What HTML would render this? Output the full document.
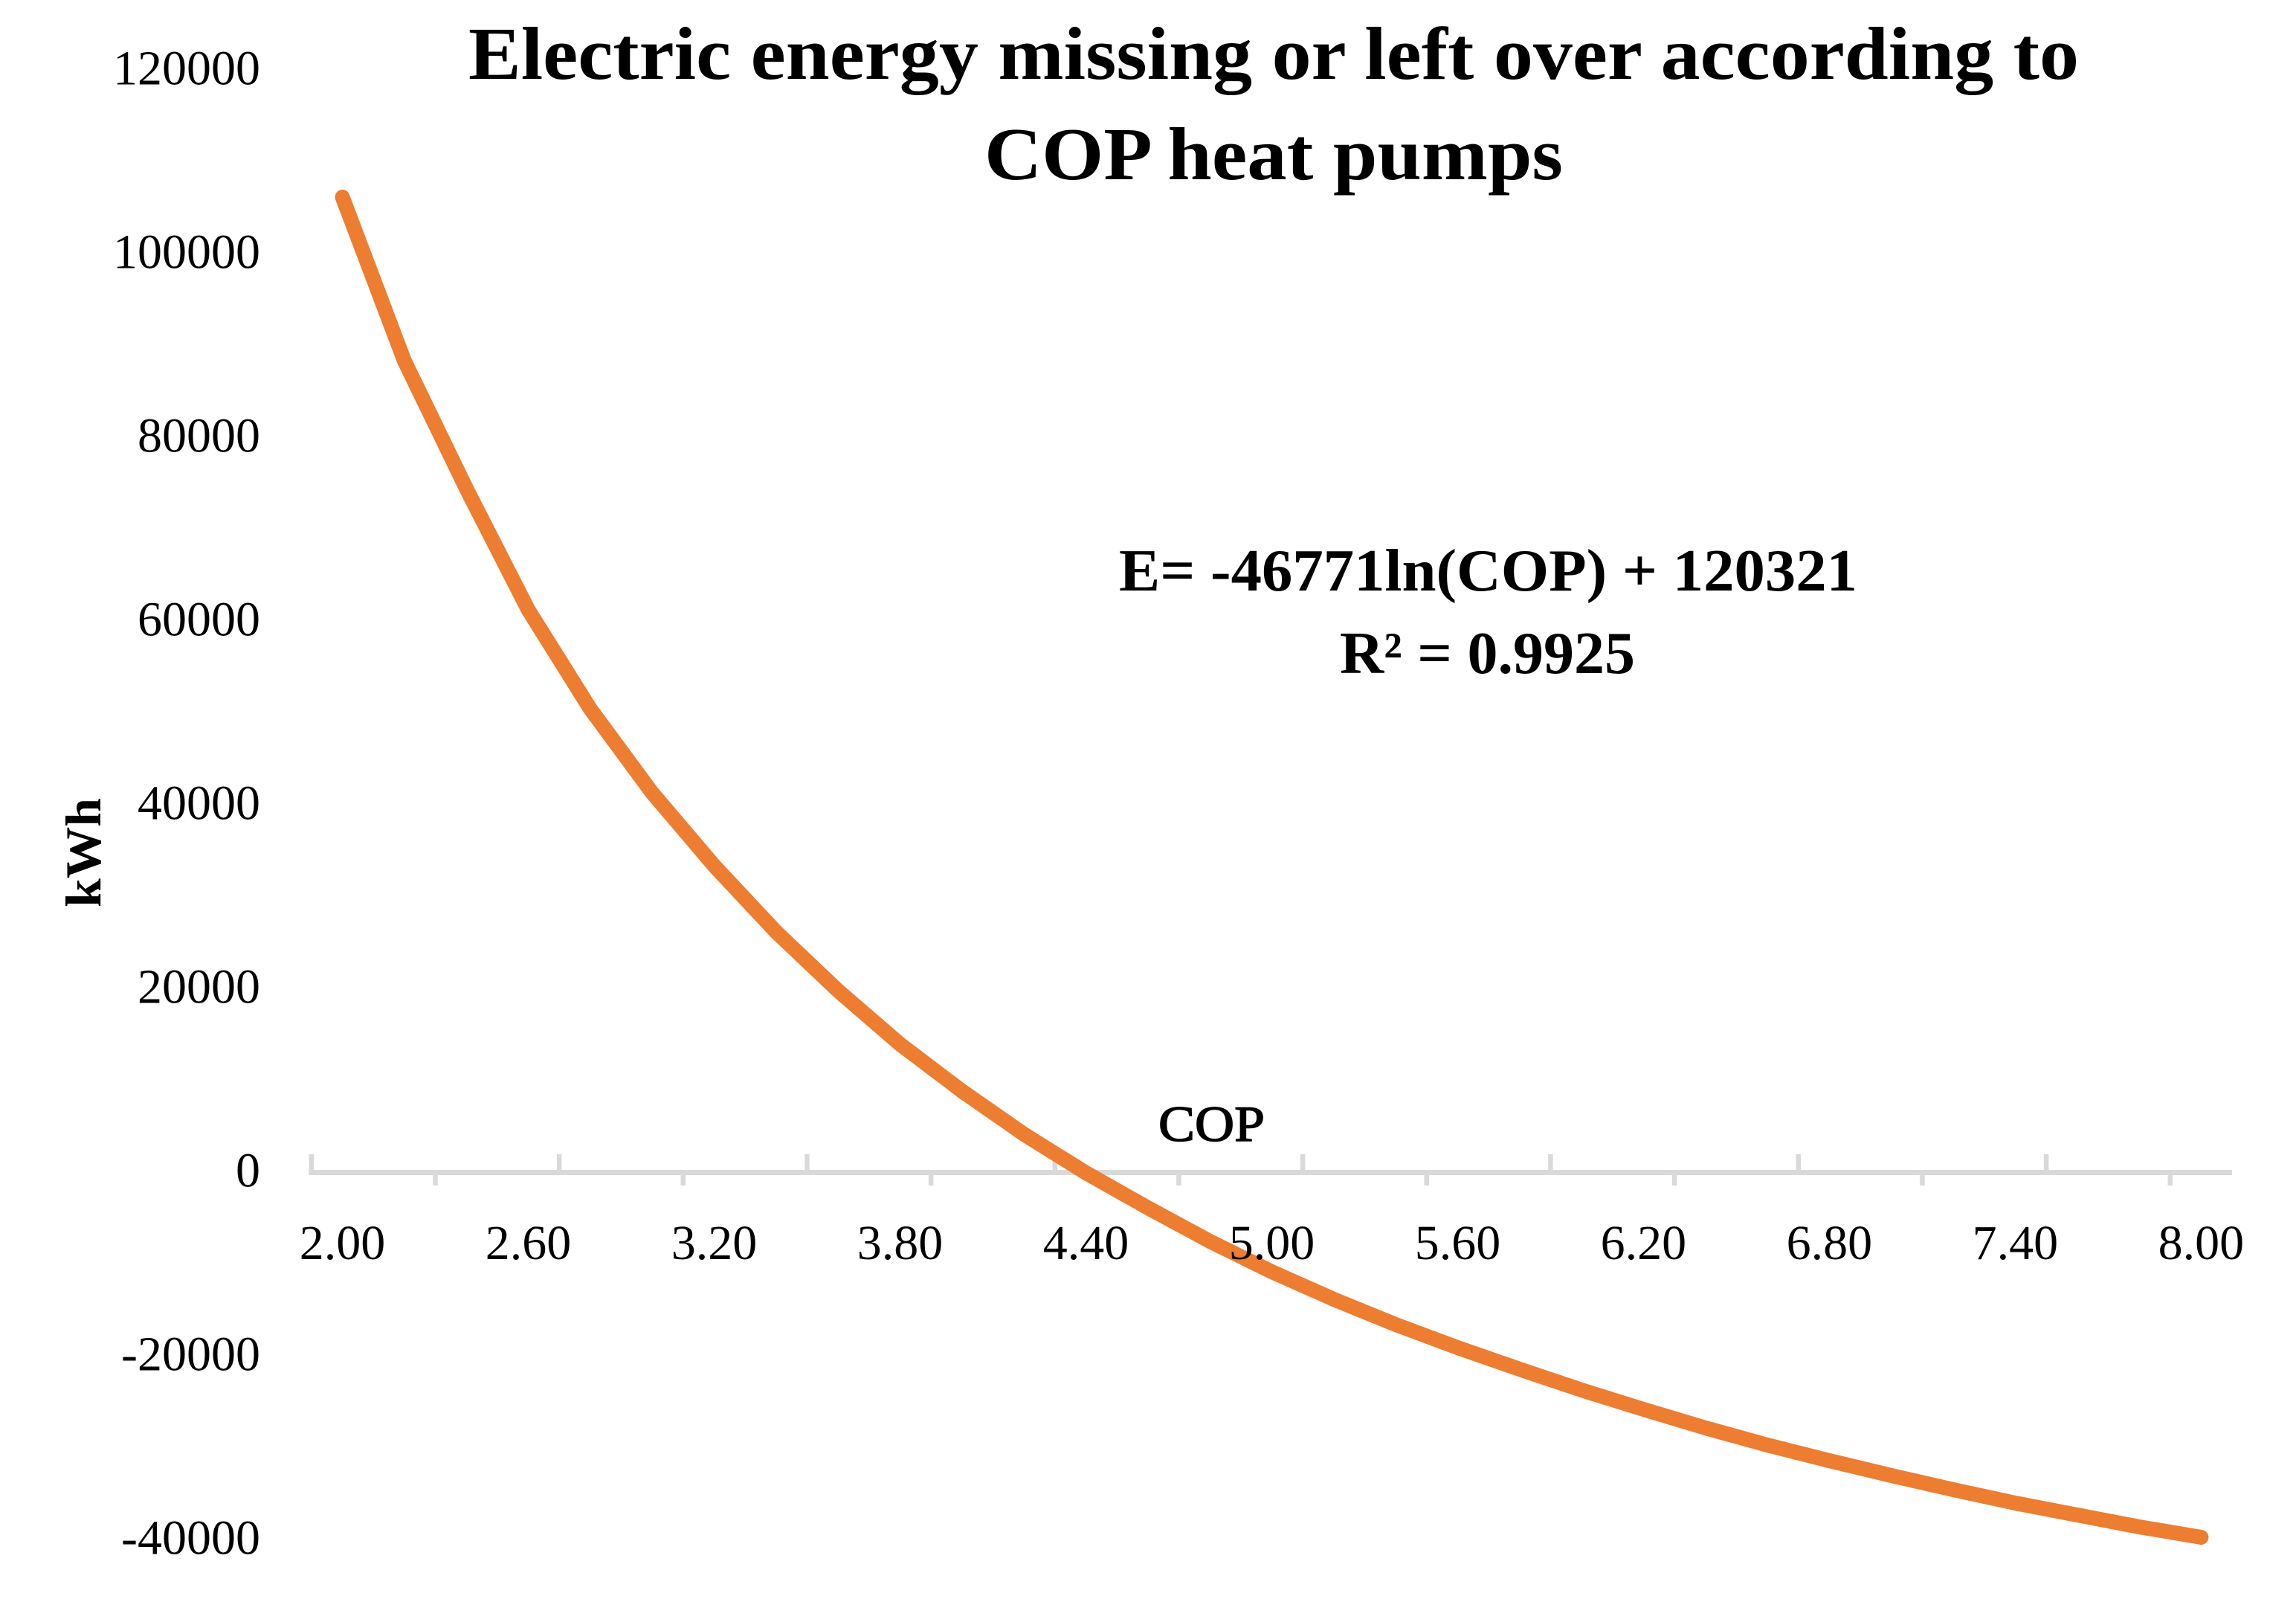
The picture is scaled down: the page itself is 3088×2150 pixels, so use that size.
<!DOCTYPE html>
<html lang="en">
<head>
<meta charset="utf-8">
<title>Electric energy missing or left over according to COP heat pumps</title>
<style>
  html, body { margin: 0; padding: 0; background: #fff; width: 3088px; height: 2150px; overflow: hidden; }
  svg { display: block; }
  text { font-family: "Liberation Serif", serif; fill: #000; }
  .tick-label { font-size: 66px; }
  .title { font-size: 101px; font-weight: bold; }
  .equation { font-size: 81px; font-weight: bold; }
</style>
</head>
<body>
<svg id="chart" xmlns="http://www.w3.org/2000/svg" width="3088" height="2150" viewBox="0 0 3088 2150">
  <rect x="0" y="0" width="3088" height="2150" fill="#ffffff"/>
  <g id="axis-layer"></g>
  <polyline id="curve" fill="none" stroke="#ED7D31" stroke-width="20" stroke-linecap="round" stroke-linejoin="round"></polyline>
  <g id="label-layer"></g>
  <text class="title" x="630" y="106" textLength="2166" lengthAdjust="spacingAndGlyphs">Electric energy missing or left over according to</text>
  <text class="title" x="1324" y="241" textLength="778" lengthAdjust="spacingAndGlyphs">COP heat pumps</text>
  <text class="equation" x="1505" y="794" textLength="993" lengthAdjust="spacingAndGlyphs">E= -46771ln(COP) + 120321</text>
  <text class="equation" x="1802" y="905" textLength="397" lengthAdjust="spacingAndGlyphs">R² = 0.9925</text>
  <text x="1558" y="1534" font-size="68" stroke="#000" stroke-width="1.5" textLength="143" lengthAdjust="spacingAndGlyphs">COP</text>
  <text transform="translate(135 1220) rotate(-90)" x="0" y="0" font-size="68" font-weight="bold" textLength="147" lengthAdjust="spacingAndGlyphs">kWh</text>
</svg>
<script>
const copCategories = [2.0, 2.2, 2.4, 2.6, 2.8, 3.0, 3.2, 3.4, 3.6, 3.8, 4.0, 4.2, 4.4, 4.6, 4.8, 5.0, 5.2, 5.4, 5.6, 5.8, 6.0, 6.2, 6.4, 6.6, 6.8, 7.0, 7.2, 7.4, 7.6, 7.8, 8.0];
const energyValues = [106194, 88381, 74452, 61254, 50485, 41335, 33400, 26194, 19797, 13967, 8866, 4170, -40, -3846, -7490, -10809, -13805, -16558, -19068, -21417, -23684, -25789, -27813, -29676, -31376, -32995, -34534, -35991, -37287, -38582, -39716];
const yTickValues = [120000, 100000, 80000, 60000, 40000, 20000, 0, -20000, -40000];

const SVG_NS = 'http://www.w3.org/2000/svg';
const categoryBand = 83.33;
const firstCategoryX = 460.5;
const zeroY = 1576.5;
const pxPerUnit = 247 / 20000;

function xScale(index) { return firstCategoryX + index * categoryBand; }
function yScale(value) { return zeroY - value * pxPerUnit; }

const axisLayer = document.getElementById('axis-layer');
const labelLayer = document.getElementById('label-layer');
const axisStart = xScale(0) - categoryBand / 2;
const axisEnd = xScale(copCategories.length - 1) + categoryBand / 2;

const axisLine = document.createElementNS(SVG_NS, 'line');


axisLine.setAttribute('x1', axisStart - 3.5);
axisLine.setAttribute('x2', axisEnd);
axisLine.setAttribute('y1', yScale(0));
axisLine.setAttribute('y2', yScale(0));
axisLine.setAttribute('stroke', '#D9D9D9');
axisLine.setAttribute('stroke-width', '7');
axisLayer.appendChild(axisLine);

for (let k = 0; k * 2 < copCategories.length; k++) {
  const tickX = axisStart + k * 2 * categoryBand;
  const tick = document.createElementNS(SVG_NS, 'line');
  
  
  tick.setAttribute('x1', tickX);
  tick.setAttribute('x2', tickX);
  tick.setAttribute('y1', yScale(0));
  tick.setAttribute('y2', k % 2 === 0 ? yScale(0) - 24.5 : yScale(0) + 17.5);
  tick.setAttribute('stroke', '#D9D9D9');
  tick.setAttribute('stroke-width', '6.5');
  axisLayer.appendChild(tick);
}

const curvePoints = energyValues.map(function (value, index) {
  return xScale(index).toFixed(1) + ',' + yScale(value).toFixed(1);
});
document.getElementById('curve').setAttribute('points', curvePoints.join(' '));

copCategories.forEach(function (cop, index) {
  if (index % 3 !== 0) return;
  const label = document.createElementNS(SVG_NS, 'text');
  
  
  label.setAttribute('class', 'tick-label');
  label.setAttribute('x', xScale(index));
  label.setAttribute('y', 1693);
  label.setAttribute('text-anchor', 'middle');
  label.textContent = cop.toFixed(2);
  labelLayer.appendChild(label);
});

yTickValues.forEach(function (value) {
  const label = document.createElementNS(SVG_NS, 'text');
  
  
  label.setAttribute('class', 'tick-label');
  label.setAttribute('x', 350);
  label.setAttribute('y', yScale(value) + 19);
  label.setAttribute('text-anchor', 'end');
  label.textContent = String(value);
  labelLayer.appendChild(label);
});
</script>
</body>
</html>
